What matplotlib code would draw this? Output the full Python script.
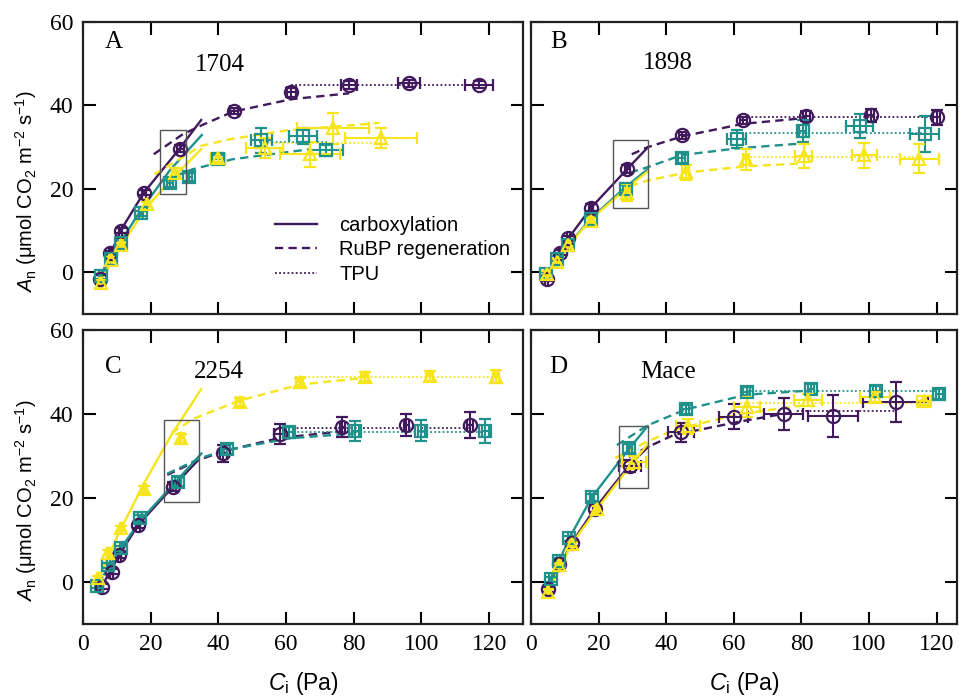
import matplotlib
matplotlib.use("Agg")
import matplotlib.pyplot as plt
from matplotlib.patches import Rectangle
from matplotlib.lines import Line2D

plt.rcParams["mathtext.fontset"] = "custom"
plt.rcParams["mathtext.rm"] = "Liberation Sans"
plt.rcParams["mathtext.it"] = "Liberation Sans:italic"

PURPLE = "#41195d"
TEAL = "#21918c"
YELLOW = "#f6e41c"
SERIF = "Liberation Serif"
SANS = "Liberation Sans"

# ---------------- Panel A: 1704 ----------------
ci_1704_t1 = [5.0, 8.0, 11.1, 18.0, 28.8, 44.6, 61.6, 78.6, 96.3, 116.9]
an_1704_t1 = [-1.5, 4.7, 10.0, 19.1, 29.6, 38.7, 43.1, 44.9, 45.3, 45.0]
ci_err_1704_t1 = [0.4, 0.4, 0.4, 0.5, 1.0, 1.2, 1.3, 2.5, 3.2, 4.1]
an_err_1704_t1 = [0.8, 0.5, 0.5, 0.6, 0.8, 0.8, 1.0, 0.9, 0.9, 0.8]
carbox_ci_1704_t1 = [5.0, 11.1, 18.0, 28.5, 34.9]
carbox_an_1704_t1 = [-1.6, 10.0, 19.1, 29.6, 36.5]
rubp_ci_1704_t1 = [20.9, 29.5, 35.5, 44.3, 61.6, 78.6]
rubp_an_1704_t1 = [28.3, 33.1, 35.4, 38.5, 41.5, 42.9]
tpu_ci_1704_t1 = [61.6, 121.0]
tpu_an_1704_t1 = 44.9

ci_1704_t2 = [5.2, 8.3, 11.2, 17.1, 25.7, 31.4, 39.9, 52.7, 65.0, 71.9]
an_1704_t2 = [-0.9, 3.3, 7.1, 14.1, 21.3, 22.9, 27.1, 31.7, 32.7, 29.2]
ci_err_1704_t2 = [0.4, 0.4, 0.4, 0.5, 0.8, 0.8, 2.0, 3.2, 4.0, 4.9]
an_err_1704_t2 = [0.6, 0.6, 0.6, 0.6, 0.8, 0.9, 1.0, 3.0, 2.0, 1.4]
carbox_ci_1704_t2 = [5.0, 11.2, 17.2, 25.7, 35.1]
carbox_an_1704_t2 = [-1.2, 7.5, 15.0, 24.5, 32.9]
rubp_ci_1704_t2 = [23.6, 32.4, 44.2, 67.0]
rubp_an_1704_t2 = [21.9, 24.7, 27.1, 29.5]
tpu_ci_1704_t2 = [52.0, 72.0]
tpu_an_1704_t2 = 31.2

ci_1704_t3 = [5.2, 8.2, 11.3, 18.8, 27.1, 39.9, 53.7, 67.0, 73.8, 88.0]
an_1704_t3 = [-2.5, 3.0, 6.5, 16.3, 23.9, 27.5, 29.8, 28.3, 34.5, 32.2]
ci_err_1704_t3 = [0.4, 0.4, 0.4, 0.5, 0.8, 2.0, 5.4, 8.8, 10.6, 10.6]
an_err_1704_t3 = [0.6, 0.6, 0.6, 0.6, 1.0, 1.0, 2.5, 3.0, 3.7, 2.4]
carbox_ci_1704_t3 = [5.0, 11.3, 19.2, 27.0, 34.9]
carbox_an_1704_t3 = [-2.5, 6.5, 16.0, 23.0, 29.5]
rubp_ci_1704_t3 = [21.1, 34.9, 43.4, 60.0, 87.6]
rubp_an_1704_t3 = [23.5, 30.3, 31.9, 34.0, 35.8]
tpu_ci_1704_t3 = [53.0, 88.0]
tpu_an_1704_t3 = 31.0

# ---------------- Panel B: 1898 ----------------
ci_1898_t1 = [4.6, 8.6, 11.0, 17.8, 28.5, 44.8, 62.8, 81.4, 100.5, 120.0]
an_1898_t1 = [-1.5, 4.7, 8.1, 15.5, 24.8, 32.8, 36.4, 37.4, 37.6, 37.2]
ci_err_1898_t1 = [0.4, 0.4, 0.4, 0.5, 0.8, 1.0, 1.0, 1.0, 1.0, 1.0]
an_err_1898_t1 = [0.6, 0.6, 0.6, 0.8, 1.0, 0.9, 0.8, 1.2, 1.5, 1.8]
carbox_ci_1898_t1 = [4.6, 11.0, 17.8, 28.5, 34.5]
carbox_an_1898_t1 = [-1.5, 8.1, 15.5, 24.8, 29.9]
rubp_ci_1898_t1 = [29.8, 34.5, 44.8, 62.8, 81.4]
rubp_an_1898_t1 = [28.3, 30.0, 32.6, 35.6, 37.0]
tpu_ci_1898_t1 = [62.8, 120.0]
tpu_an_1898_t1 = 37.3

ci_1898_t2 = [4.5, 7.8, 10.8, 17.7, 28.1, 44.6, 60.9, 80.4, 97.3, 116.4]
an_1898_t2 = [-0.5, 3.3, 6.5, 12.7, 20.0, 27.5, 31.9, 33.9, 35.0, 33.2]
ci_err_1898_t2 = [0.4, 0.4, 0.4, 0.5, 0.8, 1.0, 2.8, 1.0, 4.0, 4.4]
an_err_1898_t2 = [0.6, 0.6, 0.6, 0.8, 1.0, 1.2, 2.1, 2.6, 2.9, 4.3]
carbox_ci_1898_t2 = [4.5, 10.8, 17.7, 28.1, 34.5]
carbox_an_1898_t2 = [-1.0, 6.3, 12.9, 20.5, 24.7]
rubp_ci_1898_t2 = [29.3, 34.5, 44.6, 60.9, 80.4]
rubp_an_1898_t2 = [23.9, 25.2, 28.1, 29.7, 30.9]
tpu_ci_1898_t2 = [60.9, 116.4]
tpu_an_1898_t2 = 33.4

ci_1898_t3 = [4.7, 7.6, 11.0, 17.7, 28.5, 45.8, 63.6, 80.6, 98.5, 114.9]
an_1898_t3 = [-0.3, 2.5, 6.5, 12.3, 19.1, 24.0, 27.1, 27.9, 28.0, 27.2]
ci_err_1898_t3 = [0.4, 0.4, 0.4, 0.5, 0.8, 1.0, 1.0, 2.6, 3.7, 5.8]
an_err_1898_t3 = [0.6, 0.6, 0.6, 0.8, 2.0, 1.8, 2.5, 2.8, 3.0, 3.5]
carbox_ci_1898_t3 = [4.7, 11.0, 17.7, 28.5, 34.7]
carbox_an_1898_t3 = [-0.8, 6.3, 12.7, 20.3, 24.3]
rubp_ci_1898_t3 = [29.3, 34.5, 45.8, 63.6, 80.4]
rubp_an_1898_t3 = [20.7, 22.0, 23.9, 25.4, 26.1]
tpu_ci_1898_t3 = [63.6, 114.9]
tpu_an_1898_t3 = 27.6

# ---------------- Panel C: 2254 ----------------
ci_2254_t1 = [5.5, 8.5, 10.7, 16.3, 26.6, 41.4, 58.1, 76.6, 95.5, 114.4]
an_2254_t1 = [-1.1, 2.5, 6.4, 13.6, 22.7, 30.6, 35.2, 37.0, 37.4, 37.4]
ci_err_2254_t1 = [0.4, 0.4, 0.4, 0.5, 0.8, 1.0, 1.7, 0.8, 0.8, 0.8]
an_err_2254_t1 = [0.6, 0.6, 0.6, 0.8, 1.0, 2.0, 2.4, 2.4, 2.7, 3.0]
carbox_ci_2254_t1 = [5.5, 10.7, 16.3, 26.6, 34.0]
carbox_an_2254_t1 = [-1.1, 6.4, 13.6, 22.7, 29.0]
rubp_ci_2254_t1 = [24.9, 34.0, 41.4, 58.1, 75.8]
rubp_an_2254_t1 = [25.5, 29.0, 31.1, 34.3, 35.8]
tpu_ci_2254_t1 = [58.1, 114.4]
tpu_an_2254_t1 = 36.6

ci_2254_t2 = [4.0, 7.5, 11.2, 16.8, 28.1, 42.4, 60.9, 80.5, 99.9, 118.9]
an_2254_t2 = [-0.9, 4.0, 8.0, 15.2, 23.9, 31.6, 35.6, 36.0, 36.0, 36.0]
ci_err_2254_t2 = [0.4, 0.4, 0.4, 0.5, 0.8, 1.0, 1.0, 1.0, 1.0, 1.0]
an_err_2254_t2 = [0.6, 0.6, 0.6, 0.8, 1.0, 1.2, 1.2, 2.4, 2.5, 2.9]
carbox_ci_2254_t2 = [4.0, 11.2, 16.8, 28.1, 35.0]
carbox_an_2254_t2 = [-0.9, 8.0, 14.5, 24.5, 30.6]
rubp_ci_2254_t2 = [24.9, 35.0, 42.4, 60.9, 80.5]
rubp_an_2254_t2 = [25.8, 29.6, 31.4, 34.2, 35.4]
tpu_ci_2254_t2 = [60.9, 118.9]
tpu_an_2254_t2 = 35.8

ci_2254_t3 = [4.5, 7.5, 11.2, 18.1, 29.1, 46.3, 64.0, 83.2, 102.4, 122.0]
an_2254_t3 = [0.9, 7.0, 12.8, 22.1, 34.2, 42.9, 47.5, 48.9, 49.1, 48.9]
ci_err_2254_t3 = [0.4, 0.4, 0.4, 0.5, 0.8, 1.0, 1.0, 1.0, 1.0, 1.0]
an_err_2254_t3 = [0.6, 0.6, 0.6, 0.8, 1.0, 1.0, 1.0, 1.0, 1.2, 1.5]
carbox_ci_2254_t3 = [4.4, 10.8, 17.7, 26.1, 34.9]
carbox_an_2254_t3 = [0.5, 12.0, 23.0, 35.0, 45.9]
rubp_ci_2254_t3 = [26.1, 33.0, 46.3, 64.0, 83.2]
rubp_an_2254_t3 = [35.5, 39.0, 43.2, 47.0, 48.6]
tpu_ci_2254_t3 = [64.0, 122.0]
tpu_an_2254_t3 = 48.7

# ---------------- Panel D: Mace ----------------
ci_mace_t1 = [5.1, 8.4, 12.0, 18.9, 29.3, 44.4, 59.9, 74.7, 89.3, 107.9]
an_mace_t1 = [-1.7, 4.3, 9.2, 17.5, 27.6, 35.6, 39.4, 39.9, 39.5, 42.8]
ci_err_mace_t1 = [0.4, 0.5, 0.5, 0.6, 3.2, 3.8, 4.3, 5.7, 7.5, 9.6]
an_err_mace_t1 = [0.6, 0.6, 0.6, 0.8, 1.5, 2.3, 3.0, 3.8, 5.0, 4.8]
carbox_ci_mace_t1 = [5.1, 12.0, 18.9, 29.3, 34.7]
carbox_an_mace_t1 = [-1.7, 9.2, 17.5, 28.0, 32.2]
rubp_ci_mace_t1 = [25.4, 34.7, 42.2, 61.8, 78.6]
rubp_an_mace_t1 = [28.3, 32.2, 35.0, 38.2, 40.6]
tpu_ci_mace_t1 = [78.6, 107.9]
tpu_an_mace_t1 = 40.6

ci_mace_t2 = [5.8, 8.2, 11.3, 18.0, 29.1, 45.8, 63.8, 82.8, 102.1, 120.8]
an_mace_t2 = [0.6, 5.1, 10.4, 20.2, 31.8, 41.1, 45.3, 46.0, 45.4, 44.8]
ci_err_mace_t2 = [0.4, 0.4, 0.4, 0.5, 0.8, 1.0, 1.0, 1.0, 1.0, 1.0]
an_err_mace_t2 = [0.6, 0.6, 0.6, 0.8, 1.0, 1.0, 1.2, 1.2, 1.2, 1.2]
carbox_ci_mace_t2 = [5.0, 11.3, 18.0, 29.1, 34.5]
carbox_an_mace_t2 = [-1.0, 10.4, 20.2, 31.8, 37.1]
rubp_ci_mace_t2 = [25.4, 34.5, 45.8, 63.8, 82.8]
rubp_an_mace_t2 = [32.6, 37.3, 41.1, 44.6, 45.6]
tpu_ci_mace_t2 = [63.8, 120.8]
tpu_an_mace_t2 = 45.5

ci_mace_t3 = [5.0, 8.4, 12.0, 19.4, 30.5, 46.5, 63.8, 82.0, 101.8, 116.3]
an_mace_t3 = [-2.3, 4.0, 9.0, 17.3, 28.5, 37.1, 41.7, 43.3, 44.0, 43.2]
ci_err_mace_t3 = [0.4, 0.4, 0.5, 0.6, 3.5, 3.5, 3.8, 4.2, 4.4, 2.0]
an_err_mace_t3 = [0.6, 0.6, 0.6, 0.8, 1.5, 1.8, 2.4, 1.5, 1.2, 1.0]
carbox_ci_mace_t3 = [5.0, 12.0, 19.4, 30.5, 34.7]
carbox_an_mace_t3 = [-2.3, 9.0, 17.3, 28.8, 33.0]
rubp_ci_mace_t3 = [24.9, 34.5, 43.1, 61.8, 80.0]
rubp_an_mace_t3 = [29.5, 33.5, 36.4, 40.0, 42.0]
tpu_ci_mace_t3 = [61.8, 116.3]
tpu_an_mace_t3 = 42.7

# Transition windows (ci0, an0, width, height)
window_1704 = (22.7, 18.7, 7.7, 15.3)
window_1898 = (24.3, 15.5, 10.3, 16.2)
window_2254 = (24.0, 19.0, 10.2, 19.6)
window_mace = (26.0, 22.4, 8.6, 14.7)

panel_letters = ["A", "B", "C", "D"]
cultivars = ["1704", "1898", "2254", "Mace"]
x_ticks = [0, 20, 40, 60, 80, 100, 120]
y_ticks = [0, 20, 40, 60]
legend_labels = ["carboxylation", "RuBP regeneration", "TPU"]

g = globals()


def series(tag, t):
    k = f"{tag}_t{t}"
    return dict(
        ci=g["ci_" + k], an=g["an_" + k],
        ci_err=g["ci_err_" + k], an_err=g["an_err_" + k],
        cb_ci=g["carbox_ci_" + k], cb_an=g["carbox_an_" + k],
        rb_ci=g["rubp_ci_" + k], rb_an=g["rubp_an_" + k],
        tp_ci=g["tpu_ci_" + k], tp_an=g["tpu_an_" + k],
    )


STYLES = [(PURPLE, "o", 9.5), (TEAL, "s", 8.5), (YELLOW, "^", 9.0)]


def draw_panel(ax, tag, window, xmax):
    data = [series(tag, t) for t in (1, 2, 3)]
    for d, (col, _, _) in zip(data, STYLES):
        ax.plot(d["cb_ci"], d["cb_an"], "-", color=col, lw=1.7, zorder=2)
        ax.plot(d["rb_ci"], d["rb_an"], color=col, lw=1.7,
                linestyle=(0, (3.5, 2.2)), zorder=2)
        ax.plot(d["tp_ci"], [d["tp_an"]] * 2, color=col, lw=1.3,
                linestyle=(0, (1, 1.3)), zorder=2)
    for d, (col, mk, ms) in zip(data, STYLES):
        ax.errorbar(d["ci"], d["an"], xerr=d["ci_err"], yerr=d["an_err"],
                    fmt=mk, color=col, mfc="none", mec=col, ms=ms, mew=1.6,
                    elinewidth=1.5, capsize=4.5, capthick=1.5, zorder=3)
    x0, y0, w, h = window
    ax.add_patch(Rectangle((x0, y0), w, h, fill=False, ec="#555555",
                           lw=1.0, zorder=4))
    ax.set_xlim(0, xmax)
    ax.set_ylim(-10, 60)
    ax.set_xticks(x_ticks)
    ax.set_yticks(y_ticks)
    ax.tick_params(direction="in", length=9, width=1.5, top=True, right=True,
                   labelsize=17, pad=7)
    for lab in ax.get_xticklabels() + ax.get_yticklabels():
        lab.set_fontfamily(SERIF)
    for sp in ax.spines.values():
        sp.set_linewidth(1.6)
        sp.set_color("#222222")


W, H = 960, 697
fig = plt.figure(figsize=(W / 100, H / 100), dpi=100)


def add_axes(l, r, t, b):
    return fig.add_axes([l / W, 1 - b / H, (r - l) / W, (b - t) / H])


axA = add_axes(83, 523, 22, 314)
axB = add_axes(531, 957, 22, 314)
axC = add_axes(83, 523, 330, 624)
axD = add_axes(531, 957, 330, 624)
axes = [axA, axB, axC, axD]
tags = ["1704", "1898", "2254", "mace"]
windows = [window_1704, window_1898, window_2254, window_mace]
xmaxes = [130, 126, 130, 126]

for ax, tag, win, xm in zip(axes, tags, windows, xmaxes):
    draw_panel(ax, tag, win, xm)

for ax in (axA, axB):
    ax.tick_params(labelbottom=False)
for ax in (axB, axD):
    ax.tick_params(labelleft=False)

# panel letters and cultivar names
letter_pos = [(0.05, 0.93), (0.045, 0.93), (0.05, 0.874), (0.042, 0.874)]
name_pos = [(0.255, 0.853), (0.262, 0.861), (0.253, 0.858), (0.256, 0.858)]
for ax, let, name, lp, npos in zip(axes, panel_letters, cultivars,
                                    letter_pos, name_pos):
    ax.text(*lp, let, transform=ax.transAxes, fontsize=18, family=SERIF,
            va="center", ha="left")
    ax.text(*npos, name, transform=ax.transAxes, fontsize=18, family=SERIF,
            va="center", ha="left")

ylab = r"$A_\mathrm{n}$ ($\mathrm{\mu}$mol CO$_2$ m$^{\mathrm{-2}}$ s$^{\mathrm{-1}}$)"
for ax in (axA, axC):
    ax.set_ylabel(ylab, fontsize=14.5, family=SANS)
    ax.yaxis.set_label_coords(-0.1, 0.42)
for ax in (axC, axD):
    ax.set_xlabel(r"$C_\mathrm{i}$ (Pa)", fontsize=16.5, family=SANS,
                  labelpad=11)

handles = [Line2D([], [], color=PURPLE, lw=1.7, linestyle="-"),
           Line2D([], [], color=PURPLE, lw=1.7, linestyle=(0, (3.5, 2.2))),
           Line2D([], [], color=PURPLE, lw=1.3, linestyle=(0, (1, 1.3)))]
leg = axA.legend(handles, legend_labels, loc="upper left",
                 bbox_to_anchor=(0.436, 0.337), frameon=False, borderpad=0,
                 borderaxespad=0, handlelength=2.1, handletextpad=1.1,
                 labelspacing=0.28, prop={"family": SANS, "size": 14.5})

fig.savefig("out.png", dpi=100)
